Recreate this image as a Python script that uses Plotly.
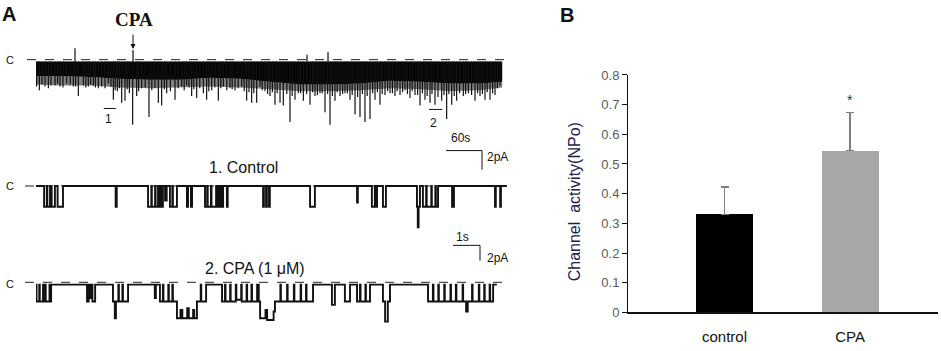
import plotly.graph_objects as go

# ---------------- DATA ----------------
# Panel B: bar chart
categories = ["control", "CPA"]
npo_mean = [0.33, 0.545]
npo_sem = [0.092, 0.128]
bar_colors = ["#000000", "#a9a6a6"]
ytick_vals = [0, 0.1, 0.2, 0.3, 0.4, 0.5, 0.6, 0.7, 0.8]
ytick_text = ["0", "0.1", "0.2", "0.3", "0.4", "0.5", "0.6", "0.7", "0.8"]
star_y = 0.716

# Panel A, top trace (long recording, time in s, current in pA)
band_t = [0, 40, 90, 140, 190, 240, 290, 340, 390, 440, 490, 540, 590, 640, 690, 740, 777]
band_lo = [-1.7, -1.7, -1.8, -2.0, -2.1, -2.1, -1.9, -2.0, -2.3, -2.6, -2.6, -2.5, -2.2, -2.3, -2.5, -2.5, -2.3]
band_env = [-2.6, -2.7, -2.7, -2.9, -3.0, -2.9, -2.8, -2.9, -3.1, -3.3, -3.3, -3.2, -3.0, -3.1, -3.3, -3.2, -2.9]
band_hi = -0.2
spike_t = [1, 5.6, 15, 20.6, 31.7, 40, 51.1, 62.2, 70.6, 78.9, 87.2, 95.6, 103.9, 109.4, 120.6, 128.9,
           135.6, 142.8, 148.3, 155.6, 161.1, 167.8, 176.1, 188.3, 198.3, 203.9, 209.4, 217.8, 231.7,
           242.8, 251.1, 259.4, 267.8, 278.9, 284.4, 292.8, 303.9, 312.2, 323.3, 331.7, 342.8, 351.1,
           359.4, 367.8, 373.3, 381.7, 390, 398.3, 406.7, 412.2, 423.3, 431.7, 437.2, 445.6, 456.7,
           465, 473.3, 481.7, 490, 498.3, 506.7, 515, 523.3, 531.7, 540, 548.3, 556.7, 565, 573.3,
           581.7, 590, 598.3, 606.7, 615, 623.3, 631.7, 640, 648.3, 656.7, 665, 676.1, 684.4, 692.8,
           701.1, 712.2, 720.6, 731.7, 740, 748.3, 756.7, 765, 773.3]
spike_depth = [-2.8, -3.2, -2.8, -3.0, -2.7, -2.8, -2.5, -2.8, -3.8, -2.7, -2.8, -2.7, -3.0, -2.8, -2.5, -4.2,
               -3.3, -4.5, -4.3, -3.5, -6.8, -3.8, -3.0, -6.0, -3.0, -4.5, -4.8, -3.5, -4.2,
               -2.8, -2.7, -3.8, -4.0, -3.5, -4.2, -3.2, -4.3, -2.8, -3.0, -3.2, -2.8, -4.3,
               -4.5, -4.5, -2.8, -3.3, -3.8, -4.7, -4.5, -4.8, -6.5, -4.2, -3.5, -4.3, -4.7,
               -3.8, -3.5, -5.5, -6.8, -4.3, -3.8, -3.5, -4.2, -5.7, -6.0, -6.5, -6.2, -4.2, -4.7,
               -3.7, -3.5, -3.8, -3.7, -3.2, -4.0, -3.7, -4.8, -4.2, -4.5, -4.7, -4.3, -6.2, -4.7,
               -4.3, -3.8, -3.5, -4.3, -3.8, -4.2, -4.2, -3.7, -2.7]
# shorter openings filling the gaps between the tall ones: (time s, depth pA)
extra_spikes = [
    (10, -2.6), (25, -2.7), (36, -2.5), (45, -2.9), (57, -2.6), (66, -2.8), (83, -2.9), (91, -2.6),
    (99, -2.9), (115, -3.0), (125, -2.8), (132, -3.2), (139, -3.0), (152, -3.1), (171, -3.3),
    (182, -2.9), (193, -3.2), (214, -3.1), (224, -3.3), (237, -3.0), (247, -3.2), (255, -2.9),
    (263, -3.1), (273, -3.0), (288, -3.3), (298, -2.9), (308, -3.0), (318, -3.2), (327, -3.1),
    (337, -3.0), (347, -3.3), (355, -3.4), (363, -3.5), (377, -3.2), (386, -3.6), (394, -3.4),
    (402, -3.5), (418, -3.6), (427, -3.8), (441, -3.5), (451, -3.6), (461, -3.4), (469, -3.7),
    (477, -3.5), (486, -3.6), (494, -3.8), (502, -3.4), (511, -3.6), (519, -3.5), (527, -3.7),
    (536, -3.9), (544, -3.6), (552, -3.8), (561, -3.5), (569, -3.4), (577, -3.6), (586, -3.3),
    (594, -3.5), (602, -3.3), (611, -3.4), (619, -3.6), (627, -3.3), (636, -3.7), (644, -3.5),
    (652, -3.8), (660, -3.6), (670, -3.9), (680, -3.7), (688, -3.6), (697, -3.8), (706, -3.5),
    (716, -3.6), (726, -3.7), (736, -3.5), (744, -3.6), (752, -3.4), (761, -3.5), (769, -3.0),
]
upspike_t = [65, 161.7, 451.7, 486.7]
upspike_h = [1.2, 1.0, 0.5, 0.8]

# Panel A, "1. Control" expanded trace: (start s, end s, open channels)
control_T = 17.44
control_unit = -2.7
control_events = [
    (0.30, 0.40, 1), (0.42, 0.52, 1), (0.58, 0.70, 1), (0.80, 1.00, 1),
    (2.95, 2.99, 1),
    (4.15, 4.27, 1), (4.29, 4.41, 1), (4.43, 4.52, 1), (4.54, 4.61, 1), (4.63, 4.70, 1), (4.78, 4.84, 0.7),
    (4.96, 5.05, 1), (5.07, 5.22, 1),
    (5.59, 5.63, 1), (5.74, 5.78, 1),
    (6.26, 6.34, 1), (6.36, 6.48, 1), (6.50, 6.67, 1), (6.74, 6.81, 1), (6.88, 6.93, 1),
    (7.07, 7.10, 1),
    (8.41, 8.44, 1), (8.52, 8.55, 1), (8.63, 8.66, 1),
    (10.15, 10.33, 1),
    (11.89, 11.92, 0.8),
    (12.44, 12.55, 1), (12.57, 12.63, 1), (12.85, 12.96, 1),
    (14.11, 14.14, 1), (14.14, 14.17, 2), (14.17, 14.22, 1),
    (14.33, 14.45, 1), (14.47, 14.64, 1), (14.66, 14.79, 1), (14.81, 14.89, 1),
    (15.41, 15.48, 1),
    (17.00, 17.03, 1), (17.19, 17.22, 1),
]

# Panel A, "2. CPA (1 uM)" expanded trace
cpa_T = 17.07
cpa_unit = -2.2
cpa_events = [
    (0.02, 0.12, 1), (0.14, 0.26, 1), (0.28, 0.34, 1), (0.36, 0.50, 1), (0.52, 0.56, 1),
    (1.89, 1.95, 1), (1.98, 2.05, 0.8), (2.09, 2.19, 1),
    (2.85, 2.92, 1), (2.92, 2.96, 2), (2.96, 3.05, 1), (3.07, 3.20, 1), (3.22, 3.41, 1),
    (4.40, 4.44, 0.8),
    (4.59, 4.70, 1), (4.72, 4.90, 1), (4.92, 5.05, 1), (5.07, 5.22, 1),
    (5.22, 5.35, 2), (5.35, 5.42, 1.5), (5.42, 5.60, 2), (5.60, 5.66, 1.4), (5.66, 5.82, 2),
    (5.82, 5.86, 1.5), (5.86, 5.96, 2),
    (5.96, 6.10, 1), (6.12, 6.30, 1),
    (6.89, 7.00, 1), (7.02, 7.19, 1), (7.21, 7.40, 1), (7.42, 7.60, 0.9), (7.62, 7.80, 1),
    (7.82, 7.98, 1), (8.00, 8.19, 1),
    (8.25, 8.30, 1), (8.30, 8.50, 2), (8.50, 8.56, 1.5), (8.56, 8.80, 2.1), (8.80, 8.85, 1.6),
    (8.85, 9.05, 1), (9.07, 9.30, 1), (9.32, 9.55, 1), (9.57, 9.80, 1), (9.82, 10.00, 1), (10.02, 10.26, 1),
    (10.96, 11.07, 1.2),
    (11.44, 11.63, 1),
    (11.89, 12.00, 1), (12.02, 12.20, 1), (12.22, 12.37, 1),
    (12.85, 12.93, 1), (12.93, 13.03, 2.2), (13.03, 13.11, 1),
    (14.52, 14.70, 1), (14.72, 14.90, 1), (14.92, 15.12, 1), (15.14, 15.35, 1), (15.37, 15.55, 1),
    (15.57, 15.80, 1), (15.82, 15.93, 1), (15.93, 15.99, 1.6), (15.99, 16.15, 1), (16.17, 16.40, 1),
    (16.42, 16.60, 1), (16.62, 16.80, 1), (16.82, 16.93, 1),
]

# ---------------- LAYOUT HELPERS ----------------
W, H = 941, 351


def px(x):
    return x / W


def py(y):
    return 1 - y / H


def step_xy(events, T, unit):
    xs, ys = [0], [0]
    for i, (t0, t1, lvl) in enumerate(events):
        prev_end = events[i - 1][1] if i > 0 else -1
        if t0 > prev_end:
            xs.append(t0)
            ys.append(0)
        xs += [t0, t1]
        ys += [lvl * unit, lvl * unit]
        nxt = events[i + 1][0] if i + 1 < len(events) else T + 1
        if nxt > t1:
            xs.append(t1)
            ys.append(0)
    xs.append(T)
    ys.append(0)
    return xs, ys


# axes geometry
top_xdom, top_xr = [px(36), px(504)], [0, 780]
top_ydom, top_yr = [py(128), py(38)], [-7.3, 1.7]
exp_xdom, exp_xr = [px(36), px(508.5)], [0, 17.5]
ctl_ydom, ctl_yr = [py(234), py(178)], [-5.875, 1.125]
cpa_ydom, cpa_yr = [py(338), py(282)], [-6.0, 1.0]


def xpaper(t, dom, rng):
    return dom[0] + (t - rng[0]) / (rng[1] - rng[0]) * (dom[1] - dom[0])


fig = go.Figure()

# ---------------- PANEL B ----------------
fig.add_trace(go.Bar(
    x=categories, y=npo_mean, width=0.454,
    marker=dict(color=bar_colors, line=dict(width=0)),
    error_y=dict(type="data", array=npo_sem, symmetric=False, arrayminus=[0, 0],
                 color="#808080", thickness=1.6, width=4),
    xaxis="x", yaxis="y", showlegend=False, hoverinfo="skip",
))

# ---------------- PANEL A: top trace ----------------
fig.add_shape(type="line", xref="paper", yref="y2", x0=px(27), x1=px(511), y0=0, y1=0,
              line=dict(color="#222", width=1, dash="dash"), layer="below")
env_x = band_t + band_t[::-1]
env_y = band_lo + band_env[::-1]
fig.add_trace(go.Scatter(x=env_x, y=env_y, fill="toself", fillcolor="rgba(0,0,0,0.5)",
                         line=dict(width=0), mode="lines", xaxis="x2", yaxis="y2",
                         showlegend=False, hoverinfo="skip"))
poly_x = band_t + band_t[::-1]
poly_y = [band_hi] * len(band_t) + band_lo[::-1]
fig.add_trace(go.Scatter(x=poly_x, y=poly_y, fill="toself", fillcolor="#050505",
                         line=dict(width=0), mode="lines", xaxis="x2", yaxis="y2",
                         showlegend=False, hoverinfo="skip"))
sx, sy = [], []
for t, d in zip(spike_t, spike_depth):
    sx += [t, t, None]
    sy += [band_hi, d, None]
for t, d in extra_spikes:
    sx += [t, t, None]
    sy += [band_hi, d, None]
for t, h in zip(upspike_t, upspike_h):
    sx += [t, t, None]
    sy += [band_hi, h, None]
fig.add_trace(go.Scatter(x=sx, y=sy, mode="lines", line=dict(color="#111111", width=1.2),
                         xaxis="x2", yaxis="y2", showlegend=False, hoverinfo="skip"))

# ---------------- PANEL A: control trace ----------------
cx, cy = step_xy(control_events, control_T, control_unit)
fig.add_shape(type="line", xref="paper", yref="y3", x0=px(25), x1=px(507), y0=0, y1=0,
              line=dict(color="#222", width=1, dash="dash"), layer="below")
fig.add_trace(go.Scatter(x=cx, y=cy, mode="lines", line=dict(color="#111", width=1.9),
                         xaxis="x3", yaxis="y3", showlegend=False, hoverinfo="skip"))

# ---------------- PANEL A: CPA trace ----------------
kx, ky = step_xy(cpa_events, cpa_T, cpa_unit)
fig.add_shape(type="line", xref="paper", yref="y4", x0=px(25), x1=px(507), y0=0.3, y1=0.3,
              line=dict(color="#222", width=1, dash="dash"), layer="below")
fig.add_trace(go.Scatter(x=kx, y=ky, mode="lines", line=dict(color="#111", width=1.9),
                         xaxis="x4", yaxis="y4", showlegend=False, hoverinfo="skip"))


# ---------------- scale bars ----------------
def scale_bar(x_end_px, y_px, t_len, dom, rng, pa_len, px_per_pa):
    xe = px(x_end_px)
    xs = xe - (xpaper(rng[0] + t_len, dom, rng) - dom[0])
    yb = py(y_px)
    yv = py(y_px + pa_len * px_per_pa)
    fig.add_shape(type="line", xref="paper", yref="paper", x0=xs, x1=xe, y0=yb, y1=yb,
                  line=dict(color="#111", width=1))
    fig.add_shape(type="line", xref="paper", yref="paper", x0=xe, x1=xe, y0=yb, y1=yv,
                  line=dict(color="#111", width=1))


scale_bar(482, 150, 60, top_xdom, top_xr, 2, 10)
scale_bar(480, 249, 1, exp_xdom, exp_xr, 2, 8)

# section markers 1 and 2 on the top trace
for t0, t1, ypx in [(113, 133, 106), (655, 677, 107)]:
    fig.add_shape(type="line", xref="paper", yref="paper",
                  x0=xpaper(t0, top_xdom, top_xr), x1=xpaper(t1, top_xdom, top_xr),
                  y0=py(ypx), y1=py(ypx), line=dict(color="#111", width=1))

# ---------------- annotations ----------------
ann = []


def txt(x, y, s, size, color="#111", family="Arial, Liberation Sans, sans-serif", **kw):
    ann.append(dict(x=px(x), y=py(y), xref="paper", yref="paper", text=s, showarrow=False,
                    font=dict(size=size, color=color, family=family), xanchor="center",
                    yanchor="middle", **kw))


txt(9, 7, "<b>A</b>", 20)
txt(567, 8, "<b>B</b>", 20)
txt(134, 13, "<b>CPA</b>", 19, family="Liberation Serif, Times New Roman, serif")
ann.append(dict(x=px(133), y=py(44), xref="paper", yref="paper", ax=0, ay=-16, text="",
                showarrow=True, arrowhead=2, arrowsize=1, arrowwidth=1, arrowcolor="#111"))
txt(10, 55, "C", 11)
txt(10, 187, "C", 11)
txt(10, 289, "C", 11)
txt(108, 117, "1", 12)
txt(433, 121, "2", 12)
txt(460, 137, "60s", 12)
txt(497, 157, "2pA", 12)
txt(243, 168, "1. Control", 16)
txt(462, 240, "1s", 12)
txt(497, 262, "2pA", 12)
txt(255, 273, "2. CPA (1 \u03bcM)", 16)
ann.append(dict(x="CPA", y=star_y, xref="x", yref="y", text="*", showarrow=False,
                font=dict(size=14, color="#333", family="Arial")))
ann.append(dict(x=px(574), y=py(204), xref="paper", yref="paper",
                text="Channel\u00a0\u00a0activity(NPo)", textangle=-90, showarrow=False,
                font=dict(size=16, color="#1c1c50", family="Arial, Liberation Sans, sans-serif"),
                xanchor="center", yanchor="middle"))

hidden = dict(visible=False, fixedrange=True)
fig.update_layout(
    width=W, height=H, margin=dict(l=0, r=0, t=0, b=0),
    paper_bgcolor="white", plot_bgcolor="white",
    xaxis=dict(domain=[px(628), px(938)], range=[-0.769, 1.701], showline=True,
               linecolor="#111", linewidth=1.5, ticks="", showgrid=False, zeroline=False,
               tickfont=dict(size=15, color="#111", family="Arial, Liberation Sans, sans-serif"),
               ticklabelstandoff=10, anchor="y", fixedrange=True),
    yaxis=dict(domain=[py(319), py(71)], range=[0, 0.8], showline=True, linecolor="#111",
               linewidth=1, ticks="outside", ticklen=5, tickcolor="#111",
               tickvals=ytick_vals, ticktext=ytick_text, showgrid=False, zeroline=False,
               tickfont=dict(size=13, color="#5a5a5a", family="Arial, Liberation Sans, sans-serif"),
               anchor="x", fixedrange=True),
    xaxis2=dict(domain=top_xdom, range=top_xr, anchor="y2", **hidden),
    yaxis2=dict(domain=top_ydom, range=top_yr, anchor="x2", **hidden),
    xaxis3=dict(domain=exp_xdom, range=exp_xr, anchor="y3", **hidden),
    yaxis3=dict(domain=ctl_ydom, range=ctl_yr, anchor="x3", **hidden),
    xaxis4=dict(domain=exp_xdom, range=exp_xr, anchor="y4", **hidden),
    yaxis4=dict(domain=cpa_ydom, range=cpa_yr, anchor="x4", **hidden),
    annotations=ann, bargap=0,
)

fig.write_html("out.html", config={"displayModeBar": False},
               post_script="document.body.style.margin='0px';")
